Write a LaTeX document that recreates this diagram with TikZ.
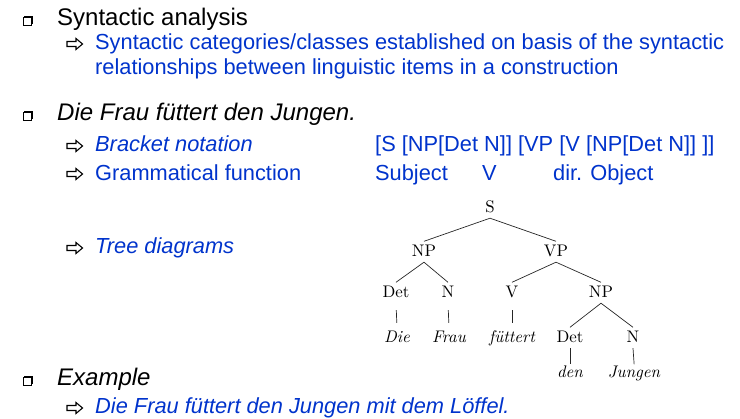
\documentclass[tikz,border=0pt]{standalone}
\usepackage{fontspec}
\setsansfont{Liberation Sans}
\newfontfamily\treefont{lmroman10-regular.otf}[ItalicFont=lmroman10-italic.otf]
\usetikzlibrary{arrows}
\definecolor{slideblue}{RGB}{0,51,204}

\begin{document}
\begin{tikzpicture}[x=1pt,y=-1pt,
  main text/.style={anchor=base west,inner sep=0pt,font=\sffamily\fontsize{24}{28}\selectfont},
  sub text/.style={anchor=base west,inner sep=0pt,text=slideblue,font=\sffamily\fontsize{21.8}{24}\selectfont},
  tree node/.style={anchor=base,inner xsep=1pt,inner ysep=3pt,text height=12.5pt,text depth=2pt,font=\treefont\fontsize{16.8}{19}\selectfont},
  tree edge/.style={line width=0.7pt,black!85},
  unary/.style={shorten <=7pt,shorten >=4.5pt},
  sqbul/.pic={\fill (1.3,-10) rectangle (9.5,-1.8);
    \draw[fill=white,line width=0.7pt] (0,-8.7) rectangle (8.2,-0.5);},
  arbul/.pic={\draw[line width=1.1pt,line join=miter] (0,-2.5) -- (9,-2.5) -- (9,-5.5) -- (15.5,0) -- (9,5.5) -- (9,2.5) -- (0,2.5) -- cycle;}]

  \useasboundingbox (0,0) rectangle (740,419);

  % bullets
  \pic at (23,26) {sqbul};
  \pic at (23,121) {sqbul};
  \pic at (23,386) {sqbul};
  \pic at (67,44) {arbul};
  \pic at (67,146) {arbul};
  \pic at (67,174) {arbul};
  \pic at (67,248) {arbul};
  \pic at (67,408) {arbul};

  % slide text
  \node[main text] (analysis) at (57,26) {Syntactic analysis};
  \node[sub text] (cat1) at (95,50) {Syntactic categories/classes established on basis of the syntactic};
  \node[sub text] (cat2) at (95,74.5) {relationships between linguistic items in a construction};
  \node[main text,font=\sffamily\itshape\fontsize{24}{28}\selectfont] (sent) at (57,121) {Die Frau füttert den Jungen.};
  \node[sub text,font=\sffamily\itshape\fontsize{21.8}{24}\selectfont] (brack) at (95,152) {Bracket notation};
  \node[sub text] (brackv) at (375,152) {[S [NP[Det N]] [VP [V [NP[Det N]] ]]};
  \node[sub text] (gram) at (95,180.5) {Grammatical function};
  \node[sub text] (subj) at (375,180.5) {Subject};
  \node[sub text] (verb) at (482,180.5) {V};
  \node[sub text] (obj) at (553,180.5) {dir. Object};
  \node[sub text,font=\sffamily\itshape\fontsize{21.8}{24}\selectfont] (treed) at (95,254) {Tree diagrams};
  \node[main text,font=\sffamily\itshape\fontsize{24}{28}\selectfont] (example) at (57,386) {Example};
  \node[sub text,font=\sffamily\itshape\fontsize{21.8}{24}\selectfont] (ex) at (95,414) {Die Frau füttert den Jungen mit dem Löffel.};

  % tree
  \node[tree node] (s) at (490,213) {S};
  \node[tree node] (np1) at (424,257) {NP};
  \node[tree node] (vp) at (556,257) {VP};
  \node[tree node] (det1) at (396,298) {Det};
  \node[tree node] (n1) at (448,298) {N};
  \node[tree node] (v) at (512,298) {V};
  \node[tree node] (np2) at (601,298) {NP};
  \node[tree node] (die) at (397,343) {\itshape Die};
  \node[tree node] (frau) at (449,343) {\itshape Frau};
  \node[tree node] (fuet) at (512,343) {\itshape füttert};
  \node[tree node] (det2) at (570,343) {Det};
  \node[tree node] (n2) at (633,343) {N};
  \node[tree node] (den) at (570,378) {\itshape den};
  \node[tree node] (jung) at (634,378) {\itshape Jungen};

  \path[tree edge]
    (s.south) edge (np1.north)
    (s.south) edge (vp.north)
    (np1.south) edge (det1.north)
    (np1.south) edge (n1.north)
    (vp.south) edge (v.north)
    (vp.south) edge (np2.north)
    (np2.south) edge (det2.north)
    (np2.south) edge (n2.north)
    (det1.south) edge[unary] (die.north)
    (n1.south) edge[unary] (frau.north)
    (v.south) edge[unary] (fuet.north)
    (det2.south) edge[shorten >=-2pt] (den.north)
    (n2.south) edge[shorten >=-2pt] (jung.north)
    ;
\end{tikzpicture}
\end{document}
